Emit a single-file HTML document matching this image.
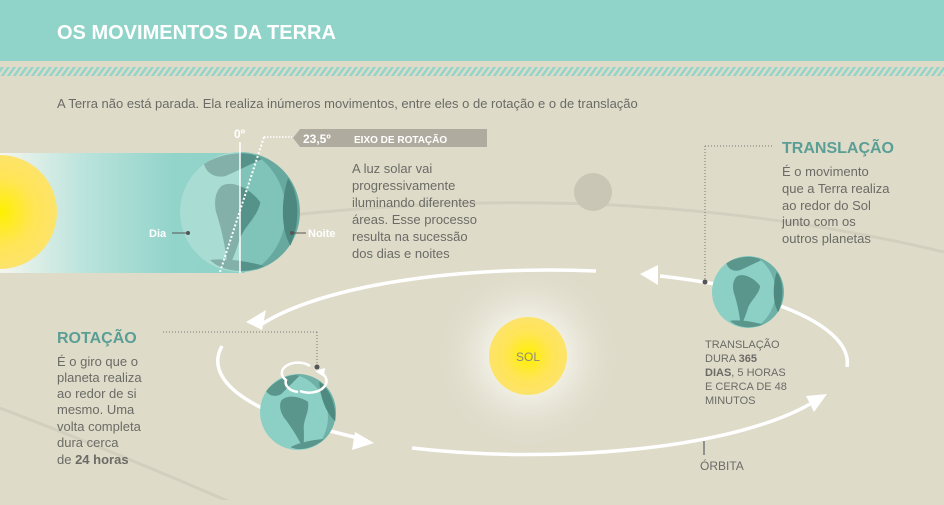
<!DOCTYPE html>
<html><head><meta charset="utf-8"><style>
html,body{margin:0;padding:0;}
body{width:944px;height:500px;overflow:hidden;background:#dedbc9;font-family:"Liberation Sans",sans-serif;}
svg text{font-family:"Liberation Sans",sans-serif;}
</style></head><body>
<svg width="944" height="500" viewBox="0 0 944 500" xmlns="http://www.w3.org/2000/svg">
<defs>
<pattern id="st" width="6" height="10" patternUnits="userSpaceOnUse" patternTransform="skewX(-35)">
<rect width="3" height="10" fill="#93d5cb"/></pattern>
<linearGradient id="beam" x1="0" x2="1" y1="0" y2="0">
<stop offset="0" stop-color="#f4f6ee"/><stop offset="0.35" stop-color="#b9e3dc"/><stop offset="0.7" stop-color="#93d4ca"/><stop offset="1" stop-color="#8ed2c7"/></linearGradient>
<radialGradient id="sun" cx="0.5" cy="0.5" r="0.5"><stop offset="0" stop-color="#fff000"/><stop offset="0.6" stop-color="#ffe555"/><stop offset="1" stop-color="#fde36a"/></radialGradient>
<radialGradient id="halo" cx="0.5" cy="0.5" r="0.5"><stop offset="0.3" stop-color="#f7f6ee"/><stop offset="1" stop-color="#dedbc9" stop-opacity="0"/></radialGradient>
<radialGradient id="halo2" cx="0" cy="0.5" r="0.5"><stop offset="0.4" stop-color="#fbfaf2"/><stop offset="1" stop-color="#dedbc9" stop-opacity="0"/></radialGradient>
<g id="earth">
<circle r="50" fill="#8cd0c5"/>
<path d="M12,-48.5 A50,50 0 0 1 12,48.5 A58,58 0 0 0 12,-48.5Z" fill="#6fb1a6"/>
<path d="M-30,-40 C-15,-50 10,-52 18,-44 C5,-38 -5,-33 -12,-30 C-20,-28 -28,-32 -30,-40Z" fill="#5a968c"/>
<path d="M-15,-22 C-5,-27 10,-18 17,-8 C14,5 5,10 0,22 C-4,35 -8,44 -10,47 C-12,30 -15,15 -20,0 C-22,-10 -20,-18 -15,-22Z" fill="#5a968c"/>
<path d="M40,-28 C50,-15 50,10 42,28 C34,15 34,-10 40,-28Z" fill="#4f8a80"/>
<path d="M-25,40 C-10,38 10,42 20,45 C5,52 -15,50 -25,40Z" fill="#5a968c"/>
</g>
</defs>
<rect width="944" height="61" fill="#8fd3c9"/>
<rect x="0" y="67" width="944" height="9" fill="url(#st)"/>
<text x="57" y="39" font-size="20" font-weight="bold" fill="#ffffff">OS MOVIMENTOS DA TERRA</text>
<text x="57" y="108" font-size="13" fill="#6b6b66">A Terra não está parada. Ela realiza inúmeros movimentos, entre eles o de rotação e o de translação</text>

<!-- faint outer orbit -->
<path d="M120,240 Q560,160 944,252" fill="none" stroke="#d2cfbe" stroke-width="3"/>
<path d="M0,408 Q110,450 230,502" fill="none" stroke="#d2cfbe" stroke-width="3"/>
<circle cx="593" cy="192" r="19" fill="#c9c6b5"/>

<!-- beam -->
<rect x="0" y="153" width="245" height="120" fill="url(#beam)"/>
<circle cx="0" cy="212" r="95" fill="url(#halo2)" opacity="0.6"/>
<circle cx="0" cy="212" r="57" fill="url(#sun)"/>
<g transform="translate(240,212) scale(1.2)"><use href="#earth"/></g>
<path d="M240,152 A60,60 0 0 0 240,272Z" fill="#ffffff" opacity="0.25"/>
<path d="M240,152 A60,60 0 0 1 240,272Z" fill="#3f7f76" opacity="0.15"/>
<line x1="240" y1="142" x2="240" y2="273" stroke="#fff" stroke-width="1.5"/>
<line x1="264" y1="137" x2="220" y2="272" stroke="#fff" stroke-width="2" stroke-dasharray="2,2"/>
<line x1="264" y1="137" x2="292" y2="137" stroke="#fff" stroke-width="1.5" stroke-dasharray="1.5,1.5"/>
<text x="234" y="138" font-size="12" font-weight="bold" fill="#fff">0º</text>
<polygon points="300,129 487,129 487,147 300,147 293,138" fill="#afac9f"/>
<text x="303" y="143" font-size="12" font-weight="bold" fill="#fff">23,5º</text>
<text x="354" y="143" font-size="10" font-weight="bold" fill="#fff">EIXO DE ROTAÇÃO</text>
<text x="149" y="237" font-size="11" font-weight="bold" fill="#fff">Dia</text>
<line x1="172" y1="233" x2="188" y2="233" stroke="#555" stroke-width="1"/><circle cx="188" cy="233" r="2" fill="#555"/>
<line x1="292" y1="233" x2="306" y2="233" stroke="#555" stroke-width="1"/><circle cx="292" cy="233" r="2" fill="#555"/>
<text x="308" y="237" font-size="11" font-weight="bold" fill="#fff">Noite</text>
<g font-size="13" fill="#6b6b66">
<text x="352" y="173">A luz solar vai</text>
<text x="352" y="190">progressivamente</text>
<text x="352" y="207">iluminando diferentes</text>
<text x="352" y="224">áreas. Esse processo</text>
<text x="352" y="241">resulta na sucessão</text>
<text x="352" y="258">dos dias e noites</text>
</g>

<!-- sun -->
<circle cx="528" cy="356" r="95" fill="url(#halo)"/>
<circle cx="528" cy="356" r="39" fill="url(#sun)"/>
<text x="528" y="361" font-size="12" fill="#8a8a80" text-anchor="middle">SOL</text>

<!-- orbit arcs -->
<g fill="none" stroke="#fff" stroke-width="3.5">
<path d="M596,271 A315,92 0 0 0 262,324"/>
<path d="M222,346 A315,92 0 0 0 262,408"/>
<path d="M330,431 L362,439"/>
<path d="M412,448 A315,92 0 0 0 810,404"/>
<path d="M775,304 A315,92 0 0 1 847,367"/>
<path d="M660,276 A315,92 0 0 1 715,284"/>
</g>
<g fill="#fff">
<polygon points="246,322 266,310 262,330"/>
<polygon points="374,443 355,432 352,450"/>
<polygon points="827,394 806,396 814,412"/>
<polygon points="640,274 658,265 658,285"/>
</g>

<!-- translation earth -->
<g transform="translate(748,292) scale(0.72)"><use href="#earth"/></g>
<line x1="705" y1="146" x2="773" y2="146" stroke="#777" stroke-width="1" stroke-dasharray="1,2"/>
<line x1="705" y1="146" x2="705" y2="282" stroke="#777" stroke-width="1" stroke-dasharray="1,2"/>
<circle cx="705" cy="282" r="2.5" fill="#555"/>
<text x="782" y="153" font-size="16" font-weight="bold" fill="#5a9e95">TRANSLAÇÃO</text>
<g font-size="13" fill="#6b6b66">
<text x="782" y="176">É o movimento</text>
<text x="782" y="193">que a Terra realiza</text>
<text x="782" y="210">ao redor do Sol</text>
<text x="782" y="226">junto com os</text>
<text x="782" y="243">outros planetas</text>
</g>
<g font-size="11" fill="#6b6b66">
<text x="705" y="348">TRANSLAÇÃO</text>
<text x="705" y="362">DURA <tspan font-weight="bold">365</tspan></text>
<text x="705" y="376"><tspan font-weight="bold">DIAS</tspan>, 5 HORAS</text>
<text x="705" y="390">E CERCA DE 48</text>
<text x="705" y="404">MINUTOS</text>
</g>
<line x1="704" y1="441" x2="704" y2="455" stroke="#777" stroke-width="1.5"/>
<text x="700" y="470" font-size="12" fill="#6b6b66">ÓRBITA</text>

<!-- rotation -->
<g transform="translate(298,412) scale(0.76) rotate(-20)"><use href="#earth"/></g>
<path d="M298,392 A15,10 0 0 1 286,380 A14,9 0 0 1 310,366" fill="none" stroke="#fff" stroke-width="2.5"/>
<path d="M318,371 A15,10 0 0 1 300,391" fill="none" stroke="#fff" stroke-width="2.5"/>
<polygon points="324,377 315,371 325,368" fill="#fff"/>
<line x1="163" y1="332" x2="317" y2="332" stroke="#777" stroke-width="1" stroke-dasharray="1,2"/>
<line x1="317" y1="332" x2="317" y2="367" stroke="#777" stroke-width="1" stroke-dasharray="1,2"/>
<circle cx="317" cy="367" r="2.5" fill="#555"/>
<text x="57" y="343" font-size="16" font-weight="bold" fill="#5a9e95">ROTAÇÃO</text>
<g font-size="13" fill="#6b6b66">
<text x="57" y="366">É o giro que o</text>
<text x="57" y="382">planeta realiza</text>
<text x="57" y="398">ao redor de si</text>
<text x="57" y="414">mesmo. Uma</text>
<text x="57" y="431">volta completa</text>
<text x="57" y="447">dura cerca</text>
<text x="57" y="464">de <tspan font-weight="bold">24 horas</tspan></text>
</g>
</svg>
</body></html>
